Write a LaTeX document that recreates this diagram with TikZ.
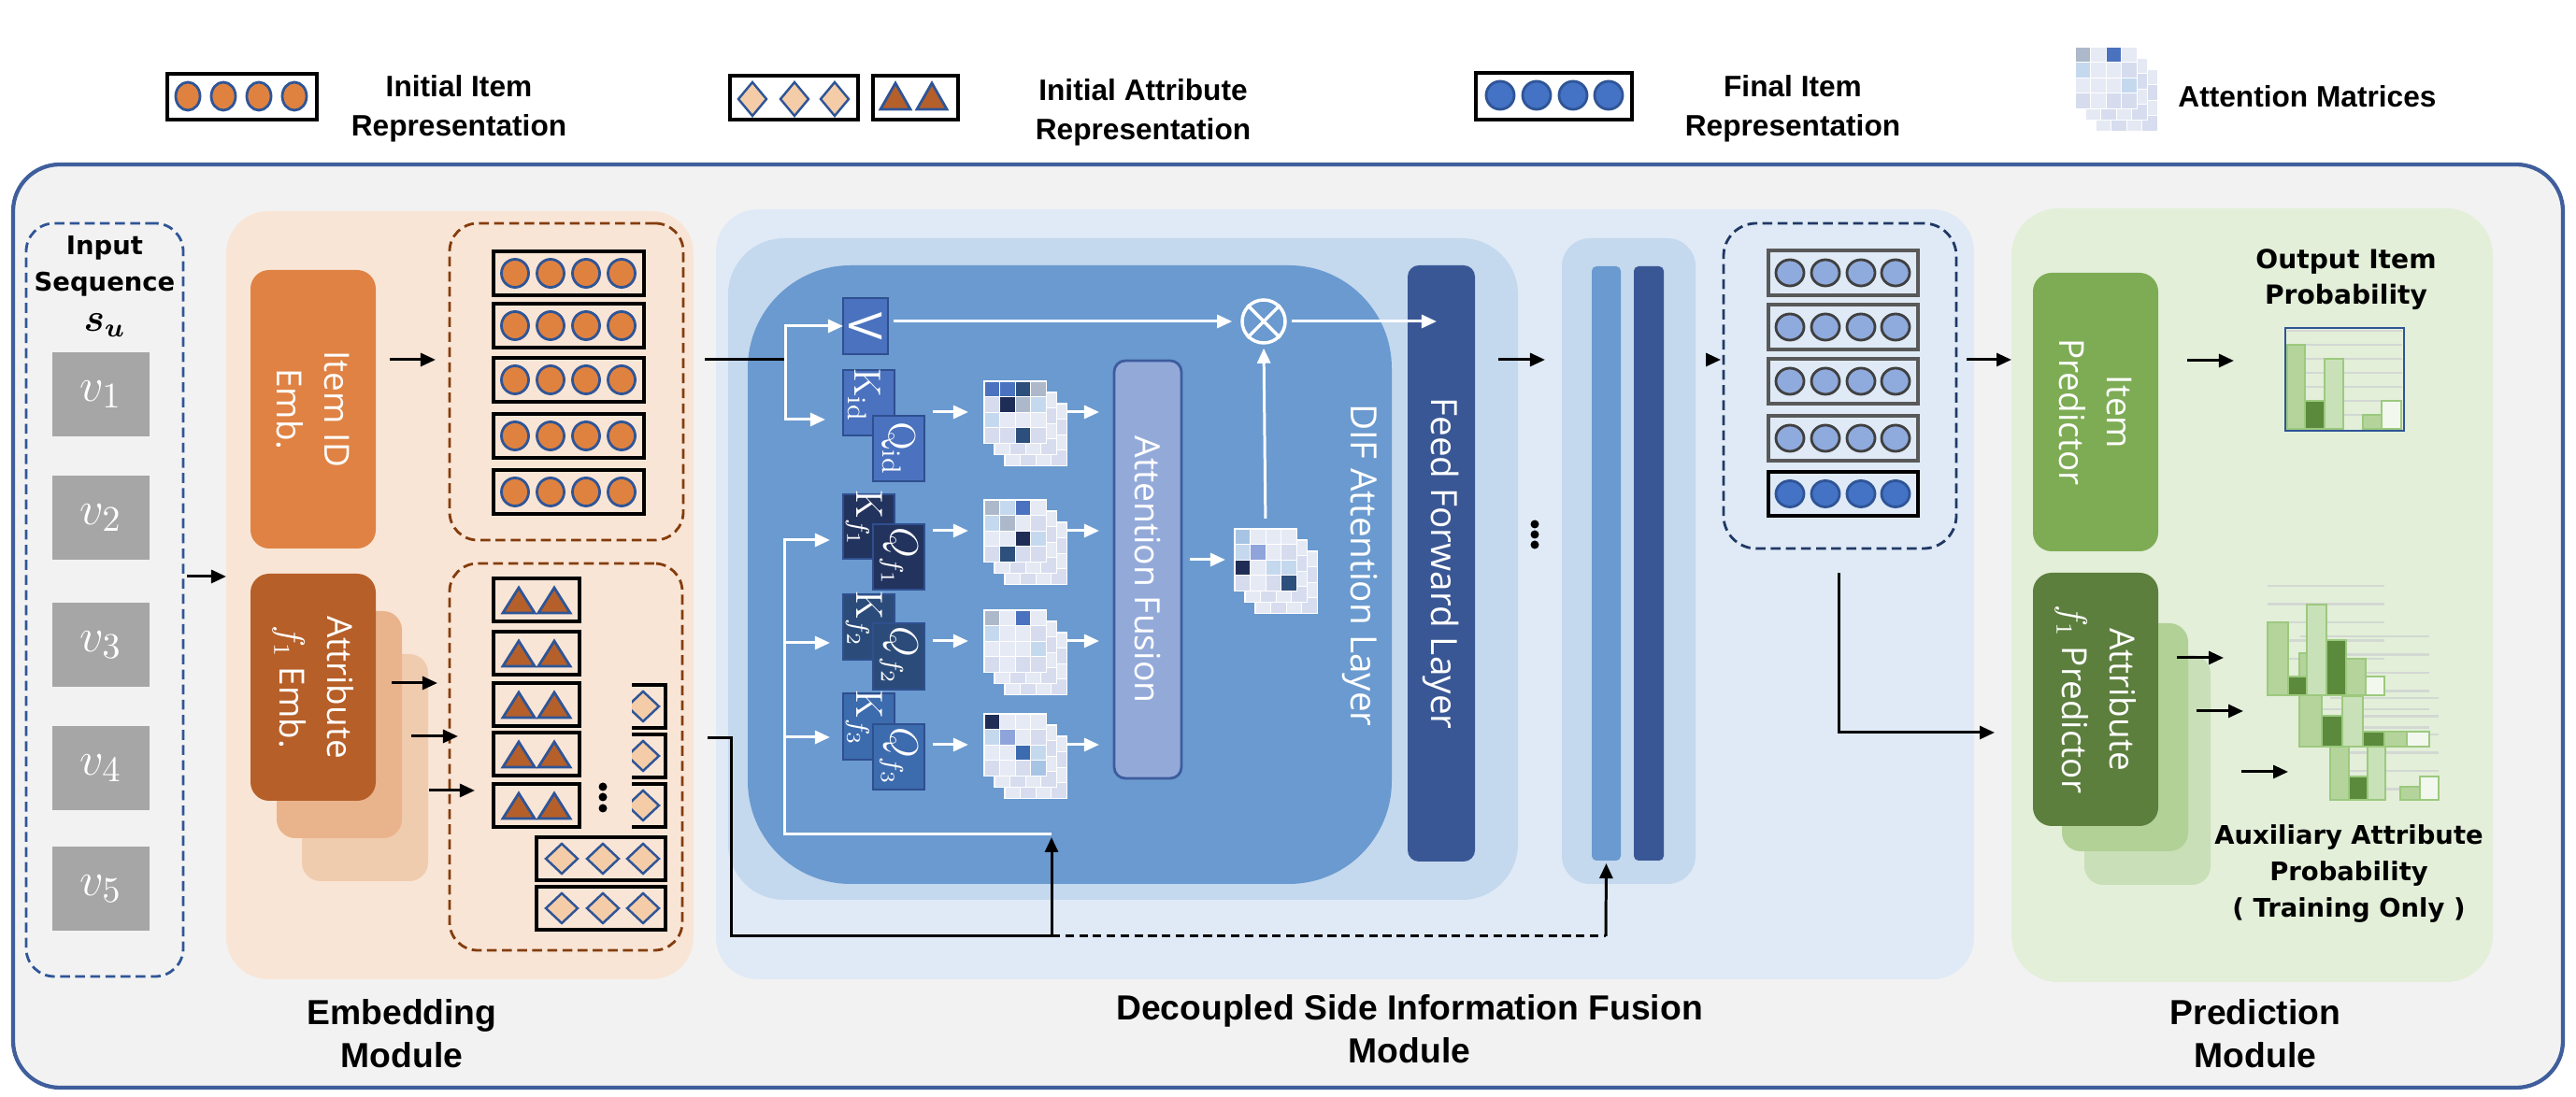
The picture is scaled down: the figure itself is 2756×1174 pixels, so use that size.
\documentclass[tikz,border=0pt]{standalone}
\usepackage{fontspec}
\usepackage{bm}
\newfontfamily\arialf{Liberation Sans}
\newfontfamily\verdf{DejaVu Sans}
\newfontfamily\opensf{Open Sans}
\usetikzlibrary{arrows.meta,calc,fit}

\definecolor{bgall}{HTML}{F2F2F2}
\definecolor{frameC}{HTML}{3F5E9C}
\definecolor{embbg}{HTML}{F9E5D6}
\definecolor{itemembC}{HTML}{DF8244}
\definecolor{attrembC}{HTML}{B65F29}
\definecolor{attrsh1}{HTML}{E9B48C}
\definecolor{attrsh2}{HTML}{F0CCAF}
\definecolor{brownD}{HTML}{843C0C}
\definecolor{circB}{HTML}{2F5597}
\definecolor{orangeC}{HTML}{E0823F}
\definecolor{triC}{HTML}{B5602A}
\definecolor{diaC}{HTML}{F4CCA8}
\definecolor{difbg}{HTML}{DFEAF6}
\definecolor{layerbg}{HTML}{C4D8EE}
\definecolor{diflayer}{HTML}{6A9ACF}
\definecolor{ffnC}{HTML}{3A5795}
\definecolor{fusC}{HTML}{93AAD9}
\definecolor{fusB}{HTML}{3E5C9E}
\definecolor{kidC}{HTML}{4A72BF}
\definecolor{kf1C}{HTML}{22335E}
\definecolor{kf2C}{HTML}{2B4C7A}
\definecolor{kf3C}{HTML}{3C6BAE}
\definecolor{kbord}{HTML}{2F4F8F}
\definecolor{navyD}{HTML}{203864}
\definecolor{finL}{HTML}{8FAADC}
\definecolor{finD}{HTML}{4472C4}
\definecolor{grayA}{HTML}{595959}
\definecolor{grayB}{HTML}{404040}
\definecolor{predbg}{HTML}{E3EFD9}
\definecolor{itempredC}{HTML}{7EAC55}
\definecolor{attrpredC}{HTML}{5C7F3D}
\definecolor{psh1}{HTML}{B1D197}
\definecolor{psh2}{HTML}{C9DFB8}
\definecolor{vgray}{HTML}{A6A6A6}
\definecolor{gA}{HTML}{ADB9CA}
\definecolor{gB}{HTML}{4A72BF}
\definecolor{gC}{HTML}{2D4F7C}
\definecolor{gD}{HTML}{1F2D56}
\definecolor{gE}{HTML}{C5D9EE}
\definecolor{gF}{HTML}{E6EAF5}
\definecolor{gG}{HTML}{D6DCEE}
\definecolor{gH}{HTML}{8FA4DA}
\definecolor{gI}{HTML}{3D6BB0}
\definecolor{gJ}{HTML}{A7C4E4}
\definecolor{bkA}{HTML}{D7DCEE}
\definecolor{bkB}{HTML}{E5E9F4}
\definecolor{chM}{HTML}{B5D49C}
\definecolor{chD}{HTML}{5B8A3C}
\definecolor{chL}{HTML}{C9E1B8}
\definecolor{chW}{HTML}{F3F8EF}
\definecolor{chB}{HTML}{9CC97E}
\definecolor{gridC}{HTML}{D3D8D3}

\newcommand{\attmat}[3]{%
  \foreach \ox/\oy in {22/24,11/12}{%
    \fill[white] (#1+\ox-1,#2+\oy-1) rectangle (#1+\ox+67,#2+\oy+67);
    \foreach \mr in {0,1,2,3}{\foreach \mc in {0,1,2,3}{%
      \pgfmathtruncatemacro{\mpar}{mod(\mr+\mc,2)}%
      \ifnum\mpar=0
        \fill[bkA] (#1+\ox+\mc*16.6+0.6,#2+\oy+\mr*16.6+0.6) rectangle ++(15.4,15.4);
      \else
        \fill[bkB] (#1+\ox+\mc*16.6+0.6,#2+\oy+\mr*16.6+0.6) rectangle ++(15.4,15.4);
      \fi
    }}%
  }%
  \fill[white] (#1-1,#2-1) rectangle (#1+67,#2+67);
  \foreach \mcol [count=\mi from 0] in {#3}{%
    \pgfmathtruncatemacro{\mrr}{int(\mi/4)}%
    \pgfmathtruncatemacro{\mcc}{mod(\mi,4)}%
    \fill[\mcol] (#1+\mcc*16.6+0.6,#2+\mrr*16.6+0.6) rectangle ++(15.4,15.4);
  }%
}

\begin{document}
\begin{tikzpicture}[x=0.01cm,y=-0.01cm,
  fbox/.style={inner sep=0pt, outer sep=0pt},
  arr/.style={line width=0.85pt, -{Triangle[length=0.16cm,width=0.14cm]}},
  warr/.style={arr, white},
  blk/.style={line width=0.85pt},
  rtxt/.style={rotate=-90, align=center, text=white, font=\opensf\fontsize{10.5}{14.5}\selectfont},
  modlbl/.style={align=center, font=\arialf\bfseries\fontsize{10.6}{13}\selectfont},
  leglbl/.style={align=center, font=\arialf\bfseries\fontsize{9}{12}\selectfont},
  vlbl/.style={align=center, font=\verdf\bfseries\fontsize{7.8}{11}\selectfont},
  rowbox/.style={draw=black, line width=0.9pt},
  dbox/.style={fbox, draw=#1, dash pattern=on 3pt off 1.6pt, line width=0.8pt, rounded corners=0.3cm},
  kq/.style={fbox, draw=kbord, line width=0.6pt},
  kqt/.style={rotate=-90, text=white, font=\fontsize{11.5}{13}\selectfont},
  bar/.style={draw=chB, line width=0.5pt},
  grl/.style={draw=gridC, line width=0.6pt}
]
\useasboundingbox (0,0) rectangle (2756,1174);
\fill[white] (0,0) rectangle (2756,1174);

% ---------------- legend ----------------
\node[fit={(179,79)(339,128)}, fbox, draw=black, fill=white, line width=1pt] (legitem) {};
\foreach \cx in {201,239,277,315}
  \draw[fill=orangeC, draw=circB, line width=0.8pt] (\cx,103) ellipse [x radius=0.13cm, y radius=0.15cm];
\node[leglbl] (legitemt) at (491,116) {Initial Item\\Representation};

\node[fit={(781,81)(918,128)}, fbox, draw=black, fill=white, line width=1pt] (legdia) {};
\foreach \cx in {805,850,893}
  \draw[fill=diaC, draw=circB, line width=0.7pt] (\cx-15,106) -- (\cx,88) -- (\cx+15,106) -- (\cx,124) -- cycle;
\node[fit={(934,81)(1025,128)}, fbox, draw=black, fill=white, line width=1pt] (legtri) {};
\foreach \cx in {958,997}
  \draw[fill=triC, draw=circB, line width=0.8pt] (\cx-16,117) -- (\cx,89) -- (\cx+16,117) -- cycle;
\node[leglbl] (legattrt) at (1223,120) {Initial Attribute\\Representation};

\node[fit={(1579,78)(1746,128)}, fbox, draw=black, fill=white, line width=1pt] (legfin) {};
\foreach \cx in {1605,1644,1683,1721}
  \draw[fill=finD, draw=circB, line width=0.8pt] (\cx,102) ellipse [x radius=0.15cm, y radius=0.15cm];
\node[leglbl] (legfint) at (1918,116) {Final Item\\Representation};

\attmat{2220}{50}{gA,gF,gB,gF,gE,gF,gF,gG,gF,gF,gF,gE,gG,gF,gG,gG}
\node[leglbl, anchor=west] (legattm) at (2318,103) {Attention Matrices};

% ---------------- frame ----------------
\node[fit={(14,176)(2742,1164)}, fbox, draw=frameC, fill=bgall, rounded corners=0.5cm, line width=1.2pt] (frame) {};

% ---------------- input sequence ----------------
\node[fit={(28,239)(196,1045)}, dbox=circB] (inbox) {};
\node[vlbl, inner sep=0.5pt] (intxt) at (112,285) {Input\\Sequence};
\node[inner sep=0.5pt, font=\fontsize{11.5}{13}\selectfont] (su) at (112,348) {$\bm{s_u}$};
\foreach \i/\vy in {1/422,2/554,3/690,4/822,5/951}
  \node[fill=vgray, minimum width=1.04cm, minimum height=0.9cm, inner sep=0pt, text=white,
        font=\fontsize{15}{17}\selectfont] (v\i) at (108,\vy) {$v_{\i}$};

% ---------------- embedding module ----------------
\node[fit={(242,226)(742,1048)}, fbox, fill=embbg, rounded corners=0.45cm] (embbg) {};
\node[fit={(268,289)(402,587)}, fbox, fill=itemembC, rounded corners=0.2cm] (itememb) {};
\node[rtxt] at (itememb.center) {Item ID\\Emb.};
\node[fit={(323,700)(458,943)}, fbox, fill=attrsh2, rounded corners=0.2cm] (attremb3) {};
\node[fit={(296,654)(430,897)}, fbox, fill=attrsh1, rounded corners=0.2cm] (attremb2) {};
\node[fit={(268,614)(402,857)}, fbox, fill=attrembC, rounded corners=0.2cm] (attremb) {};
\node[rtxt] at (attremb.center) {Attribute\\$f_1$ Emb.};

\node[fit={(481,239)(731,578)}, dbox=brownD] (itemgrp) {};
\foreach \ty in {269,325,383,443,503}{
  \draw[rowbox, fill=embbg] (528,\ty) rectangle (689,\ty+47);
  \foreach \cx in {551,589,627,665}
    \draw[fill=orangeC, draw=circB, line width=0.8pt] (\cx,\ty+23.5) ellipse [x radius=0.145cm, y radius=0.15cm];
}
\node[fit={(481,603)(730,1017)}, dbox=brownD] (attrgrp) {};
\foreach \ty in {619,676,731,784,839}{
  \draw[rowbox, fill=embbg] (528,\ty) rectangle (620,\ty+46);
  \foreach \cx in {555,593}
    \draw[fill=triC, draw=circB, line width=0.8pt] (\cx-17,\ty+37) -- (\cx,\ty+10) -- (\cx+17,\ty+37) -- cycle;
}
\begin{scope}
  \clip (676,700) rectangle (730,890);
  \foreach \ty in {733,786,839}{
    \draw[rowbox, fill=embbg] (574,\ty) rectangle (712,\ty+46);
    \foreach \cx in {601,645,688}
      \draw[fill=diaC, draw=circB, line width=0.7pt] (\cx-17,\ty+23) -- (\cx,\ty+7) -- (\cx+17,\ty+23) -- (\cx,\ty+39) -- cycle;
  }
\end{scope}
\foreach \ty in {896,949}{
  \draw[rowbox, fill=embbg] (574,\ty) rectangle (712,\ty+46);
  \foreach \cx in {601,645,688}
    \draw[fill=diaC, draw=circB, line width=0.7pt] (\cx-17,\ty+23) -- (\cx,\ty+7) -- (\cx+17,\ty+23) -- (\cx,\ty+39) -- cycle;
}
\foreach \dy in {842,853,865} \fill[black] (645,\dy) circle [radius=0.045cm];

% ---------------- DIF module ----------------
\node[fit={(766,224)(2112,1048)}, fbox, fill=difbg, rounded corners=0.45cm] (difbg) {};
\node[fit={(779,255)(1624,963)}, fbox, fill=layerbg, rounded corners=0.6cm] (layerbg) {};
\node[fit={(800,284)(1489,946)}, fbox, fill=diflayer, rounded corners=1.1cm] (diflayer) {};
\node[rotate=-90, text=white, font=\opensf\fontsize{11}{13}\selectfont] (diftxt) at (1455,605) {DIF Attention Layer};
\node[fit={(1506,284)(1578,922)}, fbox, fill=ffnC, rounded corners=0.12cm] (ffn) {};
\node[rotate=-90, text=white, font=\opensf\fontsize{11}{13}\selectfont] at (ffn.center) {Feed Forward Layer};
\node[fit={(1192,386)(1264,833)}, fbox, fill=fusC, draw=fusB, line width=0.8pt, rounded corners=0.12cm] (fusion) {};
\node[rotate=-90, text=white, font=\opensf\fontsize{10.6}{13}\selectfont] at (fusion.center) {Attention Fusion};

\node[fit={(902,319)(950,379)}, kq, fill=kidC] (vbox) {};
\node[rotate=-90, text=white, font=\opensf\fontsize{14}{16}\selectfont] at (vbox.center) {V};
\node[fit={(902,396)(957,466)}, kq, fill=kidC] (kid) {};
\node[kqt] at ($(kid.center)+(-5,-8)$) {$\mathrm{K}_{\mathrm{id}}$};
\node[fit={(934,445)(989,515)}, kq, fill=kidC] (qid) {};
\node[kqt] at (qid.center) {$\mathrm{Q}_{\mathrm{id}}$};
\node[fit={(902,529)(957,598)}, kq, fill=kf1C] (kf1) {};
\node[kqt] at ($(kf1.center)+(-5,-8)$) {$\mathrm{K}_{f_1}$};
\node[fit={(934,561)(989,631)}, kq, fill=kf1C] (qf1) {};
\node[kqt] at (qf1.center) {$Q_{f_1}$};
\node[fit={(902,636)(957,706)}, kq, fill=kf2C] (kf2) {};
\node[kqt] at ($(kf2.center)+(-5,-8)$) {$\mathrm{K}_{f_2}$};
\node[fit={(934,667)(989,738)}, kq, fill=kf2C] (qf2) {};
\node[kqt] at (qf2.center) {$Q_{f_2}$};
\node[fit={(902,742)(957,813)}, kq, fill=kf3C] (kf3) {};
\node[kqt] at ($(kf3.center)+(-5,-8)$) {$\mathrm{K}_{f_3}$};
\node[fit={(934,775)(989,845)}, kq, fill=kf3C] (qf3) {};
\node[kqt] at (qf3.center) {$Q_{f_3}$};

\attmat{1053}{408}{gB,gB,gC,gA,gG,gD,gA,gE,gE,gF,gF,gF,gG,gG,gC,gG}
\attmat{1053}{535}{gA,gE,gB,gF,gE,gA,gF,gG,gF,gF,gD,gE,gG,gC,gG,gG}
\attmat{1053}{653}{gA,gF,gB,gF,gE,gF,gF,gG,gF,gF,gF,gE,gG,gF,gG,gG}
\attmat{1053}{764}{gD,gF,gF,gF,gE,gH,gF,gG,gF,gF,gI,gE,gG,gF,gG,gJ}
\attmat{1321}{566}{gJ,gF,gF,gF,gE,gH,gF,gG,gD,gF,gE,gE,gG,gF,gG,gC}
\node[fbox, minimum width=0.66cm, minimum height=0.66cm] (m1) at (1086,441) {};
\node[fbox, minimum width=0.66cm, minimum height=0.66cm] (m2) at (1086,568) {};
\node[fbox, minimum width=0.66cm, minimum height=0.66cm] (m3) at (1086,686) {};
\node[fbox, minimum width=0.66cm, minimum height=0.66cm] (m4) at (1086,797) {};
\node[fbox, minimum width=0.66cm, minimum height=0.66cm] (mf) at (1354,599) {};

\node[circle, draw=white, line width=1pt, minimum size=0.46cm, inner sep=0pt] (ot) at (1352,344) {};
\draw[white, line width=1pt] (ot.north west) -- (ot.south east) (ot.north east) -- (ot.south west);

% white connectors inside DIF layer
\coordinate (j1) at (840,385);
\coordinate (j2) at (883,449);
\draw[blk, shorten <=0.23cm] (itemgrp.east |- j1) -- (j1);
\draw[warr] (j1) |- (vbox.west);
\draw[warr] (j1) |- (j2);
\foreach \q/\m in {qid/m1,qf1/m2,qf2/m3,qf3/m4}{
  \draw[warr, shorten <=0.09cm, shorten >=0.17cm] (\q.east |- \m.west) -- (\m.west);
  \draw[warr, shorten <=0.22cm, shorten >=0.16cm] (\m.east) -- (fusion.west |- \m.east);
}
\draw[warr, shorten <=0.09cm, shorten >=0.1cm] (fusion.east |- mf.west) -- (mf.west);
\draw[warr, shorten <=0.11cm, shorten >=0.04cm] (mf.north |- 0,566) -- (ot.south);
\draw[warr, shorten <=0.06cm, shorten >=0.09cm] (vbox.east |- ot.west) -- (ot.west);
\draw[warr, shorten <=0.05cm, shorten >=0.05cm] (ot.east) -- (ffn.center |- ot.east);

\coordinate (w0) at (1125,893);
\coordinate (w1) at (839,893);
\coordinate (w2) at (839,578);
\coordinate (w3) at (839,688);
\coordinate (w4) at (839,789);
\draw[warr, shorten >=0.14cm] (w0) -- (w1) -- (w2) -- (kf1.west |- w2);
\draw[warr, shorten >=0.14cm] (w3) -- (kf2.west |- w3);
\draw[warr, shorten >=0.14cm] (w4) -- (kf3.west |- w4);

% stack of layers
\node[fbox, circle, minimum size=0pt] (dots) at (1642,572) {};
\foreach \dy in {561,572,583} \fill[black] (1642,\dy) circle [radius=0.045cm];
\node[fit={(1671,255)(1814,946)}, fbox, fill=layerbg, rounded corners=0.3cm] (stackbg) {};
\node[fit={(1703,285)(1734,921)}, fbox, fill=diflayer, rounded corners=0.05cm] (bar1) {};
\node[fit={(1748,285)(1780,921)}, fbox, fill=ffnC, rounded corners=0.05cm] (bar2) {};
\coordinate (y385) at (0,385);
\draw[arr, shorten <=0.25cm, shorten >=0.18cm] (ffn.east |- y385) -- (stackbg.west |- y385);

% final representations
\node[fit={(1844,239)(2093,587)}, dbox=navyD, rounded corners=0.35cm] (fingrp) {};
\foreach \ty in {268,326,384,445}{
  \draw[draw=grayA, line width=0.9pt, fill=difbg] (1892,\ty) rectangle (2052,\ty+48);
  \foreach \cx in {1915,1953,1991,2028}
    \draw[fill=finL, draw=grayB, line width=0.8pt] (\cx,\ty+24) ellipse [x radius=0.15cm, y radius=0.14cm];
}
\draw[rowbox, fill=difbg] (1892,505) rectangle (2052,552);
\foreach \cx in {1915,1953,1991,2028}
  \draw[fill=finD, draw=circB, line width=0.8pt] (\cx,528.5) ellipse [x radius=0.15cm, y radius=0.14cm];
\draw[arr, shorten <=0.11cm, shorten >=0.03cm] (stackbg.east |- y385) -- (fingrp.west |- y385);

% bottom connectors
\coordinate (s2) at (757,790);
\coordinate (b1) at (782,1002);
\coordinate (b2) at (1125,1002);
\coordinate (b3) at (1718,1002);
\draw[blk] (s2) -| (b1) -- (b2);
\draw[arr] (b2) -- ($(w0)+(0,3)$);
\draw[blk, dash pattern=on 2.6pt off 1.6pt] (b2) -- (b3);
\draw[arr, shorten >=0.03cm] (b3) -- (bar1.south);

% embedding connectors
\coordinate (y617) at (0,617);
\draw[arr, shorten <=0.04cm] (inbox.east |- y617) -- (embbg.west |- y617);
\draw[arr, shorten <=0.15cm, shorten >=0.15cm] (itememb.east |- y385) -- (itemgrp.west |- y385);
\coordinate (e1) at (468,731);
\coordinate (e2) at (490,788);
\coordinate (e3) at (508,846);
\draw[arr, shorten <=0.17cm] (attremb.east |- e1) -- (e1);
\draw[arr, shorten <=0.1cm] (attremb2.east |- e2) -- (e2);
\draw[arr, shorten <=0.01cm] (attremb3.east |- e3) -- (e3);

% ---------------- prediction module ----------------
\node[fit={(2152,223)(2667,1051)}, fbox, fill=predbg, rounded corners=0.5cm] (predbg) {};
\node[fit={(2175,292)(2309,590)}, fbox, fill=itempredC, rounded corners=0.2cm] (itempred) {};
\node[rtxt] at (itempred.center) {Item\\Predictor};
\node[fit={(2230,701)(2365,947)}, fbox, fill=psh2, rounded corners=0.2cm] (attrpred3) {};
\node[fit={(2206,667)(2341,911)}, fbox, fill=psh1, rounded corners=0.2cm] (attrpred2) {};
\node[fit={(2175,613)(2309,884)}, fbox, fill=attrpredC, rounded corners=0.2cm] (attrpred) {};
\node[rtxt] at (attrpred.center) {Attribute\\$f_1$ Predictor};

\draw[arr, shorten <=0.11cm] (fingrp.east |- y385) -- (predbg.west |- y385);
\coordinate (f0) at (1967,613);
\coordinate (f1) at (2134,784);
\draw[arr] (f0) |- (f1);

\node[vlbl, font=\verdf\bfseries\fontsize{8}{10.8}\selectfont] (outt) at (2510,299) {Output Item\\Probability};
% chart 1
\node[fit={(2445,351)(2572,461)}, fbox, draw=circB, line width=0.5pt, fill=predbg] (chart1) {};
\foreach \gy in {354,369,384,399,414,429,444} \draw[grl] (2447,\gy) -- (2570,\gy);
\draw[bar, fill=chM] (2447,369) rectangle (2466,459);
\draw[bar, fill=chD] (2466,429) rectangle (2487,459);
\draw[bar, fill=chL] (2487,384) rectangle (2507,459);
\draw[bar, fill=chM] (2528,444) rectangle (2548,459);
\draw[bar, fill=chW] (2548,429) rectangle (2569,459);
\coordinate (y386) at (0,386);
\draw[arr, shorten <=0.31cm, shorten >=0.55cm] (itempred.east |- y386) -- (chart1.west |- y386);

% attribute charts
\foreach \gy in {747,766.5,786,805.5,825,844.5} \draw[grl] (2493,\gy) -- (2609,\gy);
\foreach \gy in {681,700.5,720,739.5,759,778.5} \draw[grl] (2461,\gy) -- (2599,\gy);
\foreach \gy in {627,646.5,666,685.5,705,724.5} \draw[grl] (2426,\gy) -- (2551,\gy);
\draw[bar, fill=chM] (2493,799) rectangle (2513,856);
\draw[bar, fill=chD] (2513,831) rectangle (2533,856);
\draw[bar, fill=chL] (2533,799) rectangle (2552,856);
\draw[bar, fill=chM] (2568,842) rectangle (2589,856);
\draw[bar, fill=chW] (2589,831) rectangle (2609,856);
\draw[bar, fill=chM] (2460,699) rectangle (2484,799);
\draw[bar, fill=chD] (2484,766) rectangle (2506,799);
\draw[bar, fill=chL] (2506,745) rectangle (2528,799);
\draw[bar, fill=chD] (2528,783) rectangle (2551,799);
\draw[bar, fill=chM] (2551,783) rectangle (2575,799);
\draw[bar, fill=chW] (2575,783) rectangle (2599,799);
\draw[bar, fill=chM] (2426,666) rectangle (2448,744);
\draw[bar, fill=chD] (2448,724) rectangle (2468,744);
\draw[bar, fill=chL] (2468,647) rectangle (2489,744);
\draw[bar, fill=chD] (2489,685) rectangle (2510,744);
\draw[bar, fill=chM] (2510,705) rectangle (2531,744);
\draw[bar, fill=chW] (2531,724) rectangle (2551,744);
\node[fbox, fit={(2426,627)(2609,856)}] (chart2) {};
\coordinate (g1) at (2379,704);
\coordinate (g2) at (2400,761);
\coordinate (g3) at (2448,826);
\draw[arr, shorten <=0.2cm] (attrpred.east |- g1) -- (g1);
\draw[arr, shorten <=0.09cm] (attrpred2.east |- g2) -- (g2);
\draw[arr, shorten <=0.33cm] (attrpred3.east |- g3) -- (g3);
\node[vlbl, font=\verdf\bfseries\fontsize{7.8}{11.2}\selectfont] (auxt) at (2513,935) {Auxiliary Attribute\\Probability\\( Training Only )};

% ---------------- module labels ----------------
\node[modlbl] (embl) at (430,1106) {Embedding\\Module};
\node[modlbl] (difl) at (1508,1101) {Decoupled Side Information Fusion\\Module};
\node[modlbl] (predl) at (2413,1106) {Prediction\\Module};
\end{tikzpicture}
\end{document}
